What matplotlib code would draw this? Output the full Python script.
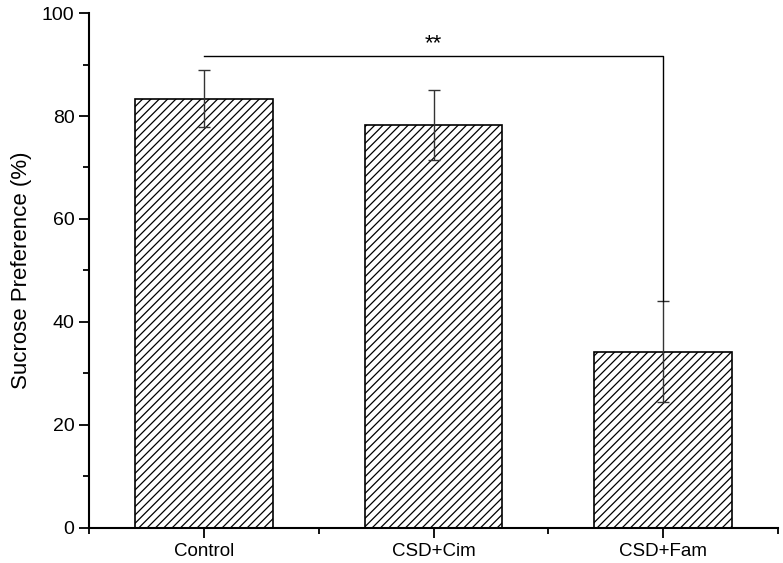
import matplotlib
matplotlib.use("Agg")
import matplotlib.pyplot as plt
from matplotlib.ticker import MultipleLocator, FixedLocator

plt.rcParams['font.family'] = ['Liberation Sans', 'DejaVu Sans']
plt.rcParams['hatch.linewidth'] = 0.9

categories = ["Control", "CSD+Cim", "CSD+Fam"]
means = [83.3, 78.3, 34.2]
err_upper = [89.0, 85.0, 44.0]
err_lower = [77.8, 71.4, 24.4]
sig_label = "**"
sig_y = 91.6

fig = plt.figure(figsize=(7.83, 5.63), dpi=100)
ax = fig.add_axes([0.1137, 0.0622, 0.8799, 0.9147])

x = [1, 2, 3]
yerr = [[m - lo for m, lo in zip(means, err_lower)],
        [hi - m for m, hi in zip(means, err_upper)]]
ax.bar(x, means, width=0.6, color='white', edgecolor='black', hatch='////',
       linewidth=1.2, zorder=2)
ax.errorbar(x, means, yerr=yerr, fmt='none', ecolor='#333333', elinewidth=1.0,
            capsize=4.3, capthick=1.0, zorder=3)

# significance bracket
ax.plot([1, 3, 3], [sig_y, sig_y, err_upper[2]], color='black', lw=1.0, zorder=3)
ax.text(2, sig_y + 0.5, sig_label, ha='center', va='bottom', fontsize=16)

ax.set_xlim(0.5, 3.5)
ax.set_ylim(0, 100)
ax.set_xticks(x)
ax.set_xticklabels(categories, fontsize=13.5)
ax.xaxis.set_minor_locator(FixedLocator([0.5, 1.5, 2.5, 3.5]))
ax.yaxis.set_major_locator(MultipleLocator(20))
ax.yaxis.set_minor_locator(MultipleLocator(10))
ax.tick_params(axis='y', which='major', labelsize=14, length=7, width=1.3, direction='out')
ax.tick_params(axis='y', which='minor', length=4, width=1.3, direction='out')
ax.tick_params(axis='x', which='major', length=7, width=1.3, direction='out', pad=4)
ax.tick_params(axis='x', which='minor', length=4, width=1.3, direction='out')
ax.set_ylabel("Sucrose Preference (%)", fontsize=16, labelpad=7)

for s in ['top', 'right']:
    ax.spines[s].set_visible(False)
for s in ['left', 'bottom']:
    ax.spines[s].set_linewidth(1.5)

fig.savefig("out.png", dpi=100)
